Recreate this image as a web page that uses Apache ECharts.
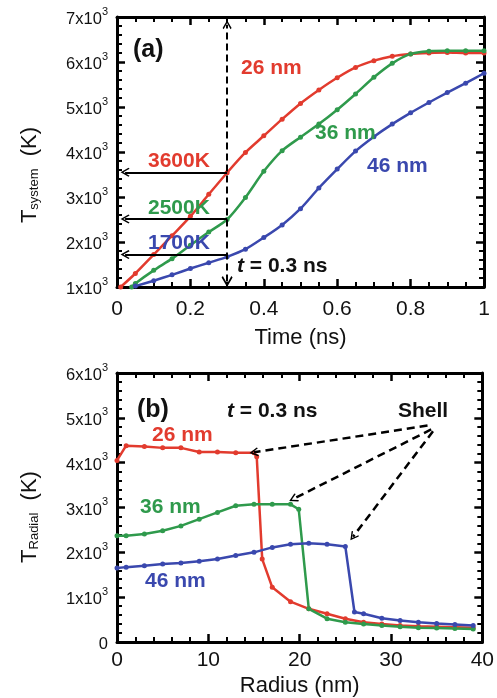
<!DOCTYPE html>
<html>
<head>
<meta charset="utf-8">
<script src="https://cdn.jsdelivr.net/npm/echarts@6/dist/echarts.min.js"></script>
<style>
  html, body { margin: 0; padding: 0; background: #fff; }
  #chart { width: 497px; height: 698px; }
</style>
</head>
<body>
<div id="chart"></div>
<script>
// ---- panel (a): system temperature vs time ----
var timeRed = [0.01, 0.05, 0.1, 0.15, 0.2, 0.25, 0.3, 0.35, 0.4, 0.45, 0.5, 0.55, 0.6, 0.65, 0.7, 0.75, 0.8, 0.85, 0.9, 0.95, 1.0];
var tempRed = [1000, 1300, 1720, 2140, 2570, 3060, 3540, 3990, 4360, 4730, 5080, 5380, 5650, 5880, 6030, 6130, 6180, 6200, 6210, 6200, 6200];
var timeGreen = [0.04, 0.05, 0.1, 0.15, 0.2, 0.25, 0.3, 0.35, 0.4, 0.45, 0.5, 0.55, 0.6, 0.65, 0.7, 0.75, 0.8, 0.85, 0.9, 0.95, 1.0];
var tempGreen = [1000, 1080, 1370, 1630, 1930, 2220, 2500, 2990, 3570, 4030, 4330, 4620, 4940, 5290, 5660, 5970, 6180, 6240, 6250, 6250, 6250];
var timeBlue = [0.05, 0.1, 0.15, 0.2, 0.25, 0.3, 0.35, 0.4, 0.45, 0.5, 0.55, 0.6, 0.65, 0.7, 0.75, 0.8, 0.85, 0.9, 0.95, 1.0];
var tempBlue = [1020, 1140, 1270, 1410, 1540, 1670, 1840, 2100, 2380, 2740, 3200, 3620, 4020, 4340, 4620, 4870, 5100, 5320, 5530, 5750];

// arrows at t = 0.3 ns (readings 3600K, 2500K, 1700K)
var markTime = 0.3;
var markTemps = [3550, 2510, 1720];
var markTempColors = ['#e23b2e', '#2f9a4c', '#3a48ae'];
var markTempText = ['3600K', '2500K', '1700K'];

// ---- panel (b): radial temperature at t = 0.3 ns ----
var radRed = [0, 1, 3, 5, 7, 9, 11, 13, 15, 15.3, 15.9, 17, 19, 21, 23, 25, 27, 29, 31, 33, 35, 37, 39];
var radTempRed = [4050, 4380, 4360, 4330, 4330, 4240, 4240, 4220, 4220, 4130, 1850, 1220, 900, 740, 630, 520, 440, 400, 370, 350, 340, 330, 320];
var radGreen = [0, 1, 3, 5, 7, 9, 11, 13, 15, 17, 19, 19.9, 21, 23, 25, 27, 29, 31, 33, 35, 37, 39];
var radTempGreen = [2370, 2370, 2410, 2480, 2590, 2740, 2890, 3040, 3070, 3070, 3070, 2960, 740, 520, 440, 400, 370, 340, 320, 310, 300, 290];
var radBlue = [0, 1, 3, 5, 7, 9, 11, 13, 15, 17, 19, 21, 23, 25, 26, 27, 29, 31, 33, 35, 37, 39];
var radTempBlue = [1650, 1670, 1700, 1740, 1760, 1800, 1850, 1930, 2000, 2110, 2180, 2200, 2180, 2130, 670, 630, 530, 480, 440, 410, 390, 370];

// shell arrows: start near "Shell" label, end at the shell edge of each curve
var shellStart = [[34.0, 4830], [34.4, 4740], [34.6, 4700]];
var shellEnd = [[15.0, 4230], [19.3, 3190], [25.85, 2350]];

var FONT = 'Liberation Sans, Arial, Helvetica, sans-serif';
var RED = '#e23b2e', GREEN = '#2f9a4c', BLUE = '#3a48ae';
var CHEVRON = 'path://M0,0L6,9L4.6,10.2L0,3.2L-4.6,10.2L-6,9Z';

function pairs(xs, ys) {
    return xs.map(function (x, i) { return [x, ys[i]]; });
}

function minor(n) {
    return { show: true, splitNumber: n, length: 5, lineStyle: { color: '#000', width: 2 } };
}

function frameAxis(extra) {
    var base = {
        type: 'value',
        axisLine: { show: true, onZero: false, lineStyle: { color: '#000', width: 3 } },
        axisTick: { show: true, inside: true, length: 8, lineStyle: { color: '#000', width: 2.5 } },
        splitLine: { show: false },
        axisLabel: { show: false }
    };
    return Object.assign(base, extra);
}

var yLabel = {
    show: true,
    margin: 9,
    formatter: function (v) {
        return v === 0 ? '{a|0}' : '{a|' + (v / 1000) + 'x10}{s|3}';
    },
    rich: {
        a: { fontSize: 16.5, fontFamily: FONT, color: '#111', padding: [5, 0, 0, 0], verticalAlign: 'bottom' },
        s: { fontSize: 11, fontFamily: FONT, color: '#111', verticalAlign: 'top' }
    }
};

function xLabel(margin) {
    return { show: true, margin: margin, fontSize: 21, fontFamily: FONT, color: '#111' };
}

var nameStyle = { fontSize: 22, fontFamily: FONT, color: '#111' };

function curve(name, data, color, xi, smooth) {
    return {
        name: name,
        type: 'line',
        xAxisIndex: xi,
        yAxisIndex: xi,
        data: data,
        smooth: smooth,
        symbol: 'circle',
        symbolSize: 5,
        showSymbol: true,
        lineStyle: { color: color, width: 2.5 },
        itemStyle: { color: color },
        z: 3
    };
}

var arrowLines = markTemps.map(function (v) {
    return { coords: [[markTime, v], [0.022, v]] };
});

var series = [
    curve('26 nm', pairs(timeRed, tempRed), RED, 0, 0.25),
    curve('36 nm', pairs(timeGreen, tempGreen), GREEN, 0, 0.25),
    curve('46 nm', pairs(timeBlue, tempBlue), BLUE, 0, 0.25),
    {
        type: 'lines',
        coordinateSystem: 'cartesian2d',
        xAxisIndex: 0, yAxisIndex: 0,
        symbol: ['none', CHEVRON],
        symbolSize: [11, 9],
        lineStyle: { color: '#000', width: 2, opacity: 1 },
        data: arrowLines,
        z: 4
    },
    {
        type: 'lines',
        coordinateSystem: 'cartesian2d',
        xAxisIndex: 0, yAxisIndex: 0,
        symbol: [CHEVRON, CHEVRON],
        symbolSize: [11, 9],
        lineStyle: { color: '#000', width: 2, type: [7, 4], opacity: 1 },
        data: [{ coords: [[markTime, 1120], [markTime, 6830]] }],
        z: 4
    },
    curve('26 nm', pairs(radRed, radTempRed), RED, 2, false),
    curve('36 nm', pairs(radGreen, radTempGreen), GREEN, 2, false),
    curve('46 nm', pairs(radBlue, radTempBlue), BLUE, 2, false),
    {
        type: 'lines',
        coordinateSystem: 'cartesian2d',
        xAxisIndex: 2, yAxisIndex: 2,
        symbol: ['none', CHEVRON],
        symbolSize: [11, 9],
        lineStyle: { color: '#000', width: 2.5, type: [8, 5], opacity: 1 },
        data: shellStart.map(function (s, i) { return { coords: [s, shellEnd[i]] }; }),
        z: 4
    }
];

function txt(x, y, text, color, size, extra) {
    return Object.assign({
        type: 'text', x: x, y: y, z: 10,
        style: {
            text: text, fill: color, fontSize: size, fontWeight: 'bold',
            fontFamily: FONT, align: 'left', verticalAlign: 'middle'
        }
    }, extra || {});
}

function yTitle(x, y, sub) {
    return {
        type: 'text', x: x, y: y, rotation: Math.PI / 2, z: 10,
        style: {
            text: '{t|T}{s|' + sub + '}{k|  (K)}',
            align: 'center', verticalAlign: 'middle',
            rich: {
                t: { fontSize: 22, fontFamily: FONT, fill: '#111', lineHeight: 22, padding: [0, 0, 8, 0], verticalAlign: 'top' },
                s: { fontSize: 13, fontFamily: FONT, fill: '#111', lineHeight: 13, verticalAlign: 'bottom' },
                k: { fontSize: 22, fontFamily: FONT, fill: '#111', lineHeight: 22, padding: [0, 0, 8, 0], verticalAlign: 'top' }
            }
        }
    };
}

var tRich = {
    i: { fontSize: 21, fontWeight: 'bold', fontStyle: 'italic', fontFamily: FONT, fill: '#111' },
    n: { fontSize: 21, fontWeight: 'bold', fontFamily: FONT, fill: '#111' }
};

var graphics = [
    txt(133, 50, '(a)', '#111', 25),
    txt(241, 68, '26 nm', RED, 21),
    txt(315, 133, '36 nm', GREEN, 21),
    txt(367, 166, '46 nm', BLUE, 21),
    txt(148, 161, markTempText[0], markTempColors[0], 21),
    txt(148, 208, markTempText[1], markTempColors[1], 21),
    txt(148, 243, markTempText[2], markTempColors[2], 21),
    { type: 'text', x: 237, y: 266, z: 10, style: { text: '{i|t}{n| = 0.3 ns}', rich: tRich, verticalAlign: 'middle' } },
    txt(137, 410, '(b)', '#111', 25),
    { type: 'text', x: 227, y: 411, z: 10, style: { text: '{i|t}{n| = 0.3 ns}', rich: tRich, verticalAlign: 'middle' } },
    txt(398, 411, 'Shell', '#111', 21),
    txt(152, 435, '26 nm', RED, 21),
    txt(140, 507, '36 nm', GREEN, 21),
    txt(145, 581, '46 nm', BLUE, 21),
    yTitle(30, 175, 'system'),
    yTitle(30, 517, 'Radial')
];

var chart = echarts.init(document.getElementById('chart'), null, { renderer: 'canvas' });
chart.setOption({
    animation: false,
    backgroundColor: '#fff',
    grid: [
        { left: 117, top: 17, width: 367, height: 270 },
        { left: 117, top: 373, width: 368, height: 270 }
    ],
    xAxis: [
        frameAxis({ gridIndex: 0, position: 'bottom', min: 0, max: 1, interval: 0.2, minorTick: minor(4),
            axisLabel: xLabel(12), name: 'Time (ns)', nameLocation: 'middle', nameGap: 40, nameTextStyle: nameStyle }),
        frameAxis({ gridIndex: 0, position: 'top', min: 0, max: 1, interval: 0.2, minorTick: minor(4) }),
        frameAxis({ gridIndex: 1, position: 'bottom', min: 0, max: 40, interval: 10, minorTick: minor(5),
            axisLabel: xLabel(8), name: 'Radius (nm)', nameLocation: 'middle', nameGap: 33, nameTextStyle: nameStyle }),
        frameAxis({ gridIndex: 1, position: 'top', min: 0, max: 40, interval: 10, minorTick: minor(5) })
    ],
    yAxis: [
        frameAxis({ gridIndex: 0, position: 'left', min: 1000, max: 7000, interval: 1000, minorTick: minor(5),
            axisLabel: yLabel }),
        frameAxis({ gridIndex: 0, position: 'right', min: 1000, max: 7000, interval: 1000, minorTick: minor(5) }),
        frameAxis({ gridIndex: 1, position: 'left', min: 0, max: 6000, interval: 1000, minorTick: minor(5),
            axisLabel: yLabel }),
        frameAxis({ gridIndex: 1, position: 'right', min: 0, max: 6000, interval: 1000, minorTick: minor(5) })
    ],
    series: series,
    graphic: graphics
});
</script>
</body>
</html>
